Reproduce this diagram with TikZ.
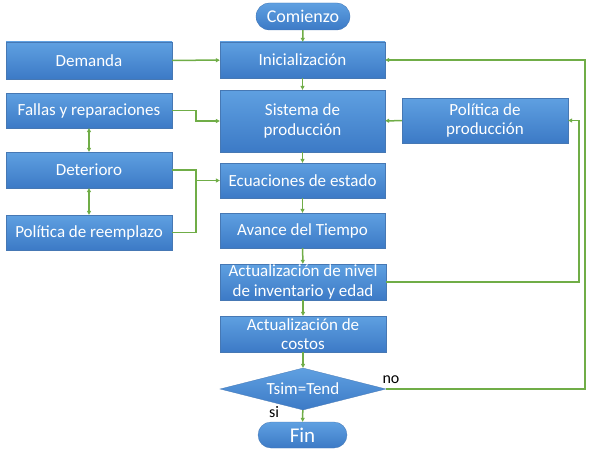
\documentclass[tikz,border=0pt]{standalone}
\usepackage{fontspec}
\setmainfont{Carlito}
\usetikzlibrary{arrows.meta,shapes.geometric,shapes.misc}
\definecolor{boxtop}{RGB}{95,160,225}
\definecolor{boxbot}{RGB}{60,122,198}
\definecolor{boxline}{RGB}{70,120,180}
\definecolor{linkgreen}{RGB}{112,173,71}

\tikzset{
	blockbox/.style={rectangle, top color=boxtop, bottom color=boxbot, draw=boxline, line width=0.3pt,
		text=white, font=\fontsize{17}{19.5}\selectfont, align=center, inner sep=0pt},
	termbox/.style={blockbox, rounded rectangle},
	decbox/.style={blockbox, diamond, aspect=4},
	link/.style={draw=linkgreen, line width=1.5pt, -{Triangle[length=4pt,width=4pt]}},
	link2/.style={link, {Triangle[length=4pt,width=4pt]}-{Triangle[length=4pt,width=4pt]}},
	plain/.style={draw=linkgreen, line width=1.5pt},
	answer/.style={font=\fontsize{16}{18}\selectfont, inner sep=0pt}
}

\begin{document}
\begin{tikzpicture}[x=1pt,y=-1pt]
		\useasboundingbox (0,0) rectangle (599,460);
		% columna central
		\node[termbox, minimum width=94pt, minimum height=27pt, font=\fontsize{18}{20}\selectfont] (com) at (303,16.5) {Comienzo};
		\node[blockbox, minimum width=165pt, minimum height=36pt] (ini) at (302.5,60) {Inicialización};
		\node[blockbox, minimum width=165pt, minimum height=62pt] (sis) at (302.5,121) {Sistema de\\producción};
		\node[blockbox, minimum width=165pt, minimum height=35pt] (ecu) at (302.5,180.5) {Ecuaciones de estado};
		\node[blockbox, minimum width=165pt, minimum height=35pt] (ava) at (302.5,230.5) {Avance del Tiempo};
		\node[blockbox, minimum width=166pt, minimum height=36pt] (act) at (303,282) {Actualización de nivel\\de inventario y edad};
		\node[blockbox, minimum width=166pt, minimum height=36pt] (cos) at (303,334) {Actualización de\\costos};
		\node[decbox, minimum width=166pt, minimum height=42pt] (dec) at (303,389) {Tsim=Tend};
		\node[termbox, minimum width=89pt, minimum height=26pt, font=\fontsize{21}{23}\selectfont] (fin) at (302.5,435) {Fin};
		% columna izquierda
		\node[blockbox, minimum width=166pt, minimum height=37pt] (dem) at (89,60.5) {Demanda};
		\node[blockbox, minimum width=166pt, minimum height=35pt] (fal) at (89,110.5) {Fallas y reparaciones};
		\node[blockbox, minimum width=166pt, minimum height=36pt] (det) at (89,170) {Deterioro};
		\node[blockbox, minimum width=166pt, minimum height=35pt] (pre) at (89,232.5) {Política de reemplazo};
		% derecha
		\node[blockbox, minimum width=166pt, minimum height=45pt] (pro) at (485,120.5) {Política de\\producción};

		\draw[link] (com) -- (ini);
		\draw[link] (ini) -- (sis);
		\draw[link] (sis) -- (ecu);
		\draw[link] (ecu) -- (ava);
		\draw[link] (ava) -- (act);
		\draw[link] (act) -- (cos);
		\draw[link] (cos) -- (dec);
		\draw[link] (dec) -- (fin);

		\draw[link] (dem) -- (ini);
		\draw[link] (fal.east) -- ++(24,0) |- (sis.west);
		\draw[link2] (fal) -- (det);
		\draw[link2] (det) -- (pre);
		\draw[plain] (det.east) -- ++(24,0) coordinate (jd) -- (jd |- pre.east) -- (pre.east);
		\draw[link] (jd |- ecu.west) -- (ecu.west);
		\draw[link] (pro) -- (sis);

		\draw[link] (act.east) -- ++(193,0) |- (pro.east);
		\draw[link] (dec.east) -- ++(199,0) |- (ini.east);
		\node[answer] (no) at (391,380) {no};
		\node[answer] (si) at (274,412) {si};
		\end{tikzpicture}
\end{document}
